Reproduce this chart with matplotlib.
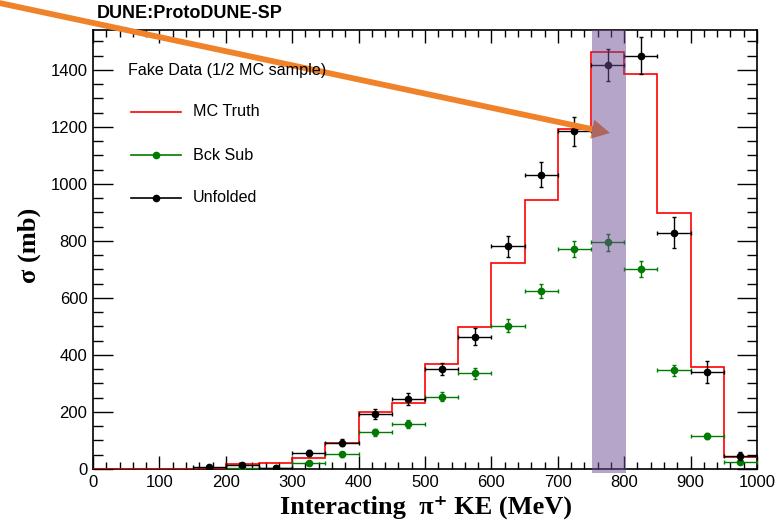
import numpy as np
import matplotlib
matplotlib.use("Agg")
import matplotlib.pyplot as plt
from matplotlib.lines import Line2D
from matplotlib.ticker import MultipleLocator

# ---------------- data ----------------
bin_edges = list(range(0, 1001, 50))
mc_truth = [0, 0, 0, 0, 16, 20, 37, 92, 201, 231, 367, 499, 723, 944, 1192, 1464, 1385, 897, 357, 43]

unf_x = [175, 225, 275, 325, 375, 425, 475, 525, 575, 625, 675, 725, 775, 825, 875, 925, 975]
unf_y = [6, 14, 5, 55, 92, 193, 246, 350, 464, 782, 1032, 1184, 1418, 1450, 829, 339, 46]
unf_err = [5, 6, 5, 10, 12, 19, 20, 22, 29, 37, 44, 50, 57, 64, 54, 39, 14]

bck_x = [225, 275, 325, 375, 425, 475, 525, 575, 625, 675, 725, 775, 825, 875, 925, 975]
bck_y = [2, 3, 20, 51, 129, 159, 254, 336, 502, 624, 772, 796, 703, 346, 115, 26]
bck_err = [3, 3, 6, 8, 12, 14, 17, 20, 23, 25, 28, 30, 28, 20, 10, 6]

band = [751, 802]
legend_title = "Fake Data (1/2 MC sample)"
legend_labels = ["MC Truth", "Bck Sub", "Unfolded"]

# ---------------- figure ----------------
W, H = 779, 522
fig = plt.figure(figsize=(W / 100, H / 100), dpi=100)
fig.patch.set_facecolor("white")
ax = fig.add_axes([93 / W, 1 - 469 / H, (757 - 93) / W, (469 - 30) / H])

sans = ["Liberation Sans", "DejaVu Sans"]
serif = ["Liberation Serif", "DejaVu Serif"]

red = "#ff0000"
green = "#007a00"

ax.stairs(mc_truth, bin_edges, color=red, lw=1.2, zorder=3, baseline=None)

xerr_b = [25] * len(bck_x)
ax.errorbar(bck_x, bck_y, xerr=xerr_b, yerr=bck_err, fmt="o", color=green,
            ms=4.5, elinewidth=1.0, capsize=1.5, capthick=1.0, zorder=4)
xerr_u = [25] * len(unf_x)
ax.errorbar(unf_x, unf_y, xerr=xerr_u, yerr=unf_err, fmt="o", color="black",
            ms=4.5, elinewidth=1.0, capsize=1.5, capthick=1.0, zorder=5)

# highlighted band (drawn on top, semi-transparent)
ax.axvspan(band[0], band[1], ymin=-0.008, ymax=1.0, color=(0.42, 0.30, 0.58),
           alpha=0.5, lw=0, zorder=10, clip_on=False)

ax.set_xlim(0, 1000)
ax.set_ylim(0, 1540)

ax.xaxis.set_major_locator(MultipleLocator(100))
ax.xaxis.set_minor_locator(MultipleLocator(20))
ax.yaxis.set_major_locator(MultipleLocator(200))
ax.yaxis.set_minor_locator(MultipleLocator(50))

ax.tick_params(axis="both", which="both", direction="in", top=True, right=True)
ax.tick_params(axis="x", which="major", length=9.4, width=1.0, pad=4)
ax.tick_params(axis="x", which="minor", length=4.7, width=1.0)
ax.tick_params(axis="y", which="major", length=14.4, width=1.0, pad=4)
ax.tick_params(axis="y", which="minor", length=7.2, width=1.0)
for sp in ax.spines.values():
    sp.set_linewidth(1.2)

for lbl in ax.get_xticklabels() + ax.get_yticklabels():
    lbl.set_family(sans)
    lbl.set_fontsize(12)

# ---------------- legend (manual) ----------------
fig.text(128 / W, 1 - 70 / H, legend_title, family=sans, fontsize=11.6,
         ha="left", va="center")
leg_y = [112, 155, 198]
leg_colors = [red, green, "black"]
leg_markers = [None, "o", "o"]
for yy, lab, c, m in zip(leg_y, legend_labels, leg_colors, leg_markers):
    yf = 1 - yy / H
    fig.add_artist(Line2D([131 / W, 181 / W], [yf, yf], color=c, lw=1.2,
                          transform=fig.transFigure))
    if m:
        fig.add_artist(Line2D([156 / W], [yf], color=c, marker=m, ms=4.5,
                              transform=fig.transFigure))
    fig.text(193 / W, yf, lab, family=sans, fontsize=11.6, ha="left", va="center")

# ---------------- titles ----------------
fig.text(97 / W, 1 - 14 / H, "DUNE:ProtoDUNE-SP", family=sans, fontsize=13,
         fontweight="bold", ha="left", va="center")
fig.text(29 / W, 1 - 245 / H, "σ (mb)", family=serif, fontsize=19,
         fontweight="bold", rotation=90, ha="center", va="center")
fig.text(426 / W, 1 - 514 / H, "Interacting  π⁺ KE (MeV)", family=serif,
         fontsize=19, fontweight="bold", ha="center", va="baseline")

# ---------------- orange arrow (under the band) ----------------
ax.annotate("", xy=(610, H - 133), xycoords="figure pixels",
            xytext=(-10, H - 1), textcoords="figure pixels",
            arrowprops=dict(arrowstyle="simple,head_length=13,head_width=14,tail_width=4.2",
                            mutation_scale=1, color="#f0822a", lw=0,
                            shrinkA=0, shrinkB=0),
            annotation_clip=False, zorder=8)

fig.savefig("out.png", dpi=100)
